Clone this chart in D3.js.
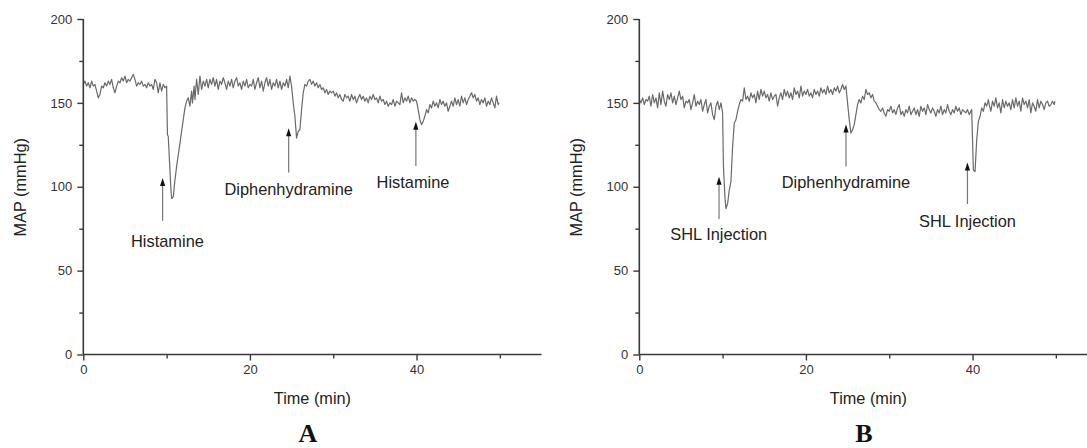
<!DOCTYPE html>
<html><head><meta charset="utf-8">
<script src="https://cdn.jsdelivr.net/npm/d3@7"></script>
<style>
html,body{margin:0;padding:0;background:#fff;}
svg{display:block;}
</style></head>
<body>
<svg id="chart" width="1087" height="448"></svg>
<script>
// ---------- DATA ----------
const xTicksMajor = [0, 20, 40];
const xTicksMinor = [10, 30, 50];
const yTicksMajor = [0, 50, 100, 150, 200];
const yTicksMinor = [25, 75, 125, 175];
const xTitle = "Time (min)";
const yTitle = "MAP (mmHg)";

const timeA = [0.0,0.2,0.4,0.6,0.8,1.0,1.2,1.4,1.6,1.8,2.0,2.2,2.4,2.6,2.8,3.0,3.2,3.4,3.6,3.8,4.0,4.2,4.4,4.6,4.8,5.0,5.2,5.4,5.6,5.8,6.0,6.2,6.4,6.6,6.8,7.0,7.2,7.4,7.6,7.8,8.0,8.2,8.4,8.6,8.8,9.0,9.2,9.4,9.6,9.8,10.0,10.1,10.2,10.5,10.6,10.8,11.0,11.2,11.6,12.0,12.2,12.4,12.6,12.8,13.0,13.1,13.3,13.4,13.6,13.8,14.0,14.2,14.4,14.6,14.8,15.0,15.2,15.4,15.6,15.8,16.0,16.2,16.4,16.6,16.8,17.0,17.2,17.4,17.6,17.8,18.0,18.2,18.4,18.6,18.8,19.0,19.2,19.4,19.6,19.8,20.0,20.2,20.4,20.6,20.8,21.0,21.2,21.4,21.6,21.8,22.0,22.2,22.4,22.6,22.8,23.0,23.2,23.4,23.6,23.8,24.0,24.2,24.4,24.6,24.8,25.0,25.2,25.4,25.6,25.8,26.0,26.2,26.4,26.6,26.8,27.0,27.2,27.4,27.6,27.8,28.0,28.2,28.4,28.6,28.8,29.0,29.2,29.4,29.6,29.8,30.0,30.2,30.4,30.6,30.8,31.0,31.2,31.4,31.6,31.8,32.0,32.2,32.4,32.6,32.8,33.0,33.2,33.4,33.6,33.8,34.0,34.2,34.4,34.6,34.8,35.0,35.2,35.4,35.6,35.8,36.0,36.2,36.4,36.6,36.8,37.0,37.2,37.4,37.6,37.8,38.0,38.2,38.4,38.6,38.8,39.0,39.2,39.4,39.6,39.8,40.0,40.2,40.4,40.6,40.8,41.0,41.2,41.4,41.6,41.8,42.0,42.2,42.4,42.6,42.8,43.0,43.2,43.4,43.6,43.8,44.0,44.2,44.4,44.6,44.8,45.0,45.2,45.4,45.6,45.8,46.0,46.2,46.4,46.6,46.8,47.0,47.2,47.4,47.6,47.8,48.0,48.2,48.4,48.6,48.8,49.0,49.2,49.4,49.6,49.8,49.9];
const mapA = [161,163,160,162,159,163,160,161,157,153,155,160,159,162,160,163,161,164,159,156,160,163,162,165,163,166,162,164,163,165,167,164,160,162,161,163,160,161,159,162,160,161,158,164,162,156,162,157,161,159,160,131,130,100,93,94,104,112,126,140,147,151,153,148,157,150,160,152,164,155,166,158,163,160,164,159,164,161,165,160,164,158,163,161,165,162,158,163,160,164,159,163,165,160,162,158,163,160,164,159,161,160,164,158,162,165,159,163,157,162,165,160,164,158,162,160,164,159,163,158,162,160,164,159,166,160,150,142,129,133,134,146,156,161,160,163,164,161,163,160,162,159,161,158,159,156,158,155,157,156,157,154,156,153,155,152,151,155,153,154,151,155,152,154,150,153,155,152,154,151,153,150,154,152,155,152,153,150,154,151,152,149,151,148,150,149,152,148,151,150,149,156,150,153,151,154,150,153,151,152,151,146,140,137,139,142,146,144,149,147,151,148,150,147,152,149,151,148,150,145,148,151,148,153,149,152,148,154,150,153,149,152,154,156,153,155,151,153,149,152,150,153,148,151,149,153,150,147,154,149,150];

const timeB = [0.0,0.2,0.4,0.6,0.8,1.0,1.2,1.4,1.6,1.8,2.0,2.2,2.4,2.6,2.8,3.0,3.2,3.4,3.6,3.8,4.0,4.2,4.4,4.6,4.8,5.0,5.2,5.4,5.6,5.8,6.0,6.2,6.4,6.6,6.8,7.0,7.2,7.4,7.6,7.8,8.0,8.2,8.4,8.6,8.8,9.0,9.2,9.4,9.6,9.8,10.0,10.1,10.3,10.4,10.6,10.8,11.0,11.2,11.4,11.6,11.8,12.0,12.2,12.4,12.6,12.8,13.0,13.2,13.4,13.6,13.8,14.0,14.2,14.4,14.6,14.8,15.0,15.2,15.4,15.6,15.8,16.0,16.2,16.4,16.6,16.8,17.0,17.2,17.4,17.6,17.8,18.0,18.2,18.4,18.6,18.8,19.0,19.2,19.4,19.6,19.8,20.0,20.2,20.4,20.6,20.8,21.0,21.2,21.4,21.6,21.8,22.0,22.2,22.4,22.6,22.8,23.0,23.2,23.4,23.6,23.8,24.0,24.2,24.4,24.6,24.8,25.0,25.2,25.4,25.6,25.8,26.0,26.2,26.4,26.6,26.8,27.0,27.2,27.4,27.6,27.8,28.0,28.2,28.4,28.6,28.8,29.0,29.2,29.4,29.6,29.8,30.0,30.2,30.4,30.6,30.8,31.0,31.2,31.4,31.6,31.8,32.0,32.2,32.4,32.6,32.8,33.0,33.2,33.4,33.6,33.8,34.0,34.2,34.4,34.6,34.8,35.0,35.2,35.4,35.6,35.8,36.0,36.2,36.4,36.6,36.8,37.0,37.2,37.4,37.6,37.8,38.0,38.2,38.4,38.6,38.8,39.0,39.2,39.4,39.6,39.9,40.1,40.3,40.5,40.7,40.9,41.1,41.3,41.5,41.7,41.9,42.0,42.2,42.4,42.6,42.8,43.0,43.2,43.4,43.6,43.8,44.0,44.2,44.4,44.6,44.8,45.0,45.2,45.4,45.6,45.8,46.0,46.2,46.4,46.6,46.8,47.0,47.2,47.4,47.6,47.8,48.0,48.2,48.4,48.6,48.8,49.0,49.2,49.4,49.6,49.8,49.9];
const mapB = [152,150,153,149,152,151,154,148,155,150,153,147,156,149,157,151,148,155,152,156,150,154,149,153,157,152,154,147,151,150,152,146,150,155,148,151,149,152,145,149,152,144,148,150,143,140,148,151,146,150,144,112,92,87,90,98,103,124,138,140,145,149,152,151,159,152,154,151,156,153,155,150,157,152,158,154,157,153,155,151,156,152,154,155,148,153,156,152,158,154,157,153,156,152,159,155,157,153,160,154,157,155,158,154,156,153,158,155,157,154,159,156,158,155,160,156,158,155,159,157,160,156,158,161,158,160,150,140,132,134,137,143,149,152,150,154,152,158,155,156,153,155,151,150,148,146,145,147,144,142,146,145,148,144,146,143,147,149,143,145,142,146,144,148,143,145,147,143,146,142,148,145,147,143,149,146,144,147,145,142,146,144,148,143,146,144,149,145,143,146,144,148,145,147,143,146,145,144,146,143,146,110,109,128,139,142,147,145,150,148,152,149,145,151,148,153,147,150,144,152,147,151,148,150,146,152,147,153,148,151,145,153,149,151,147,152,144,150,148,145,152,147,151,149,146,150,151,148,149,151,149,151];

// annotations (x in min, y in mmHg)
const arrowXA = [9.52, 24.65, 39.92];
const arrowTipA = [105.2, 134.8, 138.8];
const arrowTailA = [79.8, 108.5, 112.4];
const labelTextA = ["Histamine", "Diphenhydramine", "Histamine"];
const labelXA = [10.1, 24.65, 39.58];
const labelYA = [64.1, 95.1, 99.3];

const arrowXB = [9.57, 24.81, 39.39];
const arrowTipB = [106.0, 137.1, 114.5];
const arrowTailB = [80.8, 112.0, 89.7];
const labelTextB = ["SHL Injection", "Diphenhydramine", "SHL Injection"];
const labelXB = [9.54, 24.81, 39.39];
const labelYB = [68.3, 99.4, 76.2];

const panelNames = ["A", "B"];

// ---------- DRAW ----------
const SANS = "Arial, 'Liberation Sans', sans-serif";
const SERIF = "'Liberation Serif', 'Times New Roman', serif";
const svg = d3.select("#chart");
svg.append("rect").attr("width",1087).attr("height",448).attr("fill","#fff");

const panels = [
  {left:83.3, time:timeA, map:mapA, ax:arrowXA, at:arrowTipA, al:arrowTailA, lt:labelTextA, lx:labelXA, ly:labelYA, name:panelNames[0]},
  {left:639.3, time:timeB, map:mapB, ax:arrowXB, at:arrowTipB, al:arrowTailB, lt:labelTextB, lx:labelXB, ly:labelYB, name:panelNames[1]}
];
const plotTop = 19, plotBottom = 354.5, plotW = 458.2;
const axisColor = "#3a3a3a";

panels.forEach(p => {
  const x = d3.scaleLinear().domain([0,55]).range([p.left, p.left+plotW]);
  const y = d3.scaleLinear().domain([0,200]).range([plotBottom, plotTop]);
  const g = svg.append("g");

  // trace
  const pts = p.time.map((t,i)=>[t,p.map[i]]);
  g.append("path").datum(pts)
    .attr("fill","none").attr("stroke","#6a6a6a").attr("stroke-width",1.2)
    .attr("stroke-linejoin","round")
    .attr("d", d3.line().x(d=>x(d[0])).y(d=>y(d[1])));

  // axes
  const xa = g.append("g").attr("transform",`translate(0,${plotBottom})`)
    .call(d3.axisBottom(x).tickValues(xTicksMajor).tickSize(6).tickPadding(4).tickFormat(d3.format("d")));
  const xm = g.append("g").attr("transform",`translate(0,${plotBottom})`)
    .call(d3.axisBottom(x).tickValues(xTicksMinor).tickSize(4).tickFormat(""));
  xm.select(".domain").remove();
  const ya = g.append("g").attr("transform",`translate(${p.left},0)`)
    .call(d3.axisLeft(y).tickValues(yTicksMajor).tickSize(6).tickPadding(5).tickFormat(d3.format("d")));
  const ym = g.append("g").attr("transform",`translate(${p.left},0)`)
    .call(d3.axisLeft(y).tickValues(yTicksMinor).tickSize(4).tickFormat(""));
  ym.select(".domain").remove();
  [xa,xm,ya,ym].forEach(a=>{
    a.selectAll("path.domain").attr("stroke",axisColor).attr("stroke-width",1.6);
    a.selectAll(".tick line").attr("stroke",axisColor).attr("stroke-width",1.4);
    a.selectAll(".tick text").attr("fill","#333").style("font-size","13px").style("font-family",SANS);
  });
  xa.select(".domain").attr("d",`M${p.left},0H${p.left+plotW}`);
  ya.select(".domain").attr("d",`M0,${plotTop}V${plotBottom}`);

  // axis titles
  g.append("text").attr("x",(p.left + p.left + plotW)/2).attr("y",404)
    .attr("text-anchor","middle").style("font-family",SANS).style("font-size","16.3px").attr("fill","#222").text(xTitle);
  g.append("text").attr("transform",`translate(${p.left-63.5},${(plotTop+plotBottom)/2+0.5}) rotate(-90)`)
    .attr("text-anchor","middle").attr("dominant-baseline","central")
    .style("font-family",SANS).style("font-size","16.3px").attr("fill","#222").text(yTitle);

  // arrows
  p.ax.forEach((ax,i)=>{
    const xx = x(ax), yt = y(p.at[i]), yb = y(p.al[i]);
    g.append("line").attr("x1",xx).attr("x2",xx).attr("y1",yb).attr("y2",yt+6)
      .attr("stroke","#777").attr("stroke-width",1.2);
    g.append("path").attr("d",`M${xx},${yt}L${xx-2.6},${yt+8}L${xx+2.6},${yt+8}Z`).attr("fill","#111");
  });
  // labels
  p.lt.forEach((t,i)=>{
    g.append("text").attr("x",x(p.lx[i])).attr("y",y(p.ly[i]))
      .attr("text-anchor","middle").style("font-family",SANS).style("font-size","16.4px").attr("fill","#222").text(t);
  });

  // panel letter
  g.append("text").attr("x",(p.left + p.left + plotW)/2 - 4.5).attr("y",441.5)
    .attr("text-anchor","middle").style("font-family",SERIF)
    .style("font-weight","bold").style("font-size","26px").attr("fill","#111").text(p.name);
});
</script>
</body></html>
